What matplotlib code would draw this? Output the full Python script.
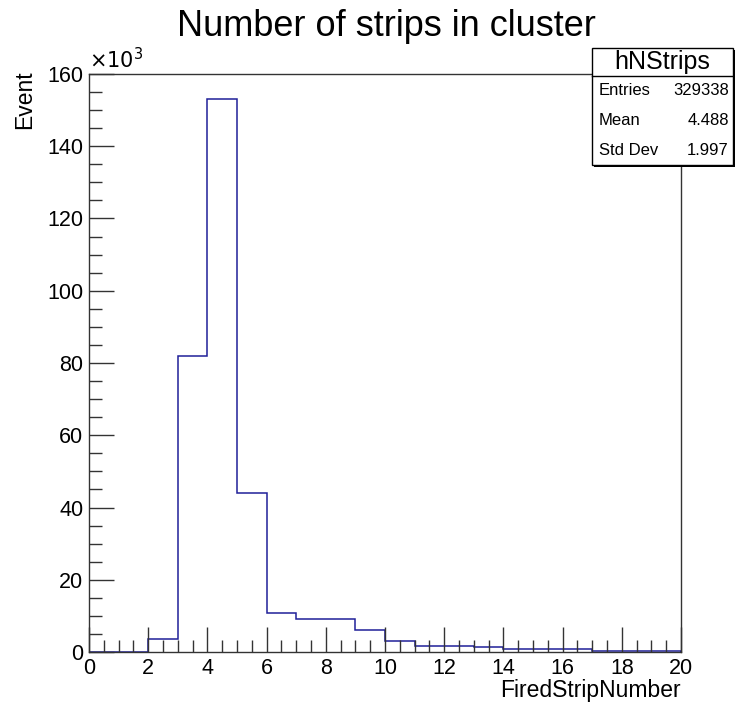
import numpy as np
import matplotlib
matplotlib.use("Agg")
import matplotlib.pyplot as plt
from matplotlib.ticker import MultipleLocator
from matplotlib.patches import Rectangle

plt.rcParams['font.family'] = ['Liberation Sans', 'DejaVu Sans']

# histogram contents (events, in units of 10^3), bins of width 1 from 0 to 20
bin_edges = list(range(0, 21))
counts_k = [0, 0, 3.6, 82.0, 153.0, 44.0, 10.7, 9.1, 9.1, 6.0,
            3.0, 1.7, 1.7, 1.3, 0.75, 0.75, 0.75, 0.2, 0.2, 0.2]

hist_name = "hNStrips"
stat_labels = ["Entries", "Mean", "Std Dev"]
stat_values = ["329338", "4.488", "1.997"]

W, H = 735, 707
fig = plt.figure(figsize=(W / 100, H / 100), dpi=100)
ax = fig.add_axes([89 / W, 1 - 652 / H, (681 - 89) / W, (652 - 74) / H])

ax.stairs(counts_k, bin_edges, color='#1f1f99', linewidth=1.1)

ax.set_xlim(0, 20)
ax.set_ylim(0, 160)
ax.xaxis.set_major_locator(MultipleLocator(2))
ax.xaxis.set_minor_locator(MultipleLocator(0.5))
ax.yaxis.set_major_locator(MultipleLocator(20))
ax.yaxis.set_minor_locator(MultipleLocator(5))
ax.tick_params(which='both', direction='in', top=False, right=False,
               labelsize=15.5, color='#333333', width=1)
ax.tick_params(which='major', length=18, pad=4)
ax.tick_params(which='minor', length=9)
for s in ax.spines.values():
    s.set_color('#333333')
    s.set_linewidth(1)

ax.text(0, 1.003, r'$\times10^{3}$', transform=ax.transAxes, fontsize=15,
        ha='left', va='bottom')

fig.text(386 / W, 1 - 26 / H, "Number of strips in cluster", fontsize=26,
         ha='center', va='center')
fig.text(681 / W, 1 - 690 / H, "FiredStripNumber", fontsize=16.5,
         ha='right', va='center')
fig.text(25 / W, 1 - 100 / H, "Event", fontsize=16.5, rotation=90,
         ha='center', va='center')

# stats box
x0, x1 = 592 / W, 733 / W
y_top, y_sep, y_bot = 1 - 48 / H, 1 - 76 / H, 1 - 165 / H
fig.patches.append(Rectangle((x0 + 2 / W, y_bot - 2 / H), x1 - x0, y_top - y_bot,
                             transform=fig.transFigure, facecolor='black',
                             edgecolor='none', zorder=5))
fig.patches.append(Rectangle((x0, y_bot), x1 - x0, y_top - y_bot,
                             transform=fig.transFigure, facecolor='white',
                             edgecolor='black', linewidth=1, zorder=6))
fig.add_artist(plt.Line2D([x0, x1], [y_sep, y_sep], transform=fig.transFigure,
                          color='black', linewidth=1, zorder=7))
fig.text((x0 + x1) / 2, (y_top + y_sep) / 2, hist_name, fontsize=18,
         ha='center', va='center', zorder=8)
row_h = (y_sep - y_bot) / len(stat_labels)
for i, (lab, val) in enumerate(zip(stat_labels, stat_values)):
    yc = y_sep - row_h * (i + 0.5)
    fig.text(x0 + 7 / W, yc, lab, fontsize=12, ha='left', va='center', zorder=8)
    fig.text(x1 - 4 / W, yc, val, fontsize=12, ha='right', va='center', zorder=8)

fig.savefig("out.png", dpi=100)
